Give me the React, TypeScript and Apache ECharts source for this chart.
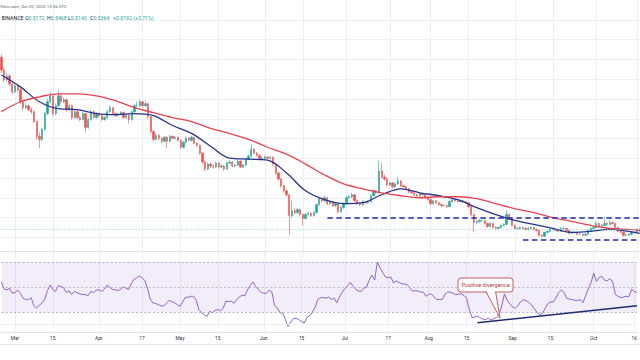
import React, { useEffect, useRef } from "react";
import * as echarts from "echarts";

// ---------- data ----------
const START_DATE = "2023-02-24";
const firstOpen = 1.411;

const closes = [
  1.346, 1.296, 1.316, 1.276, 1.236, 1.266, 1.246, 1.186, 1.156, 1.166,
  1.146, 1.136, 1.086, 1.011, 0.996, 1.046, 1.126, 1.186, 1.216, 1.126,
  1.166, 1.216, 1.186, 1.196, 1.146, 1.166, 1.106, 1.136, 1.106, 1.096,
  1.126, 1.056, 1.096, 1.136, 1.106, 1.126, 1.116, 1.096, 1.106, 1.136,
  1.156, 1.126, 1.116, 1.121, 1.131, 1.106, 1.116, 1.096, 1.136, 1.166,
  1.166, 1.186, 1.166, 1.176, 1.111, 1.036, 0.996, 1.016, 1.001, 0.986,
  1.006, 0.986, 1.011, 1.001, 1.006, 0.991, 0.956, 0.981, 1.001, 0.991,
  1.006, 0.976, 0.966, 0.926, 0.881, 0.846, 0.871, 0.861, 0.856, 0.876,
  0.856, 0.861, 0.846, 0.876, 0.881, 0.861, 0.866, 0.886, 0.856, 0.866,
  0.896, 0.911, 0.946, 0.926, 0.916, 0.896, 0.901, 0.906, 0.901, 0.906,
  0.871, 0.826, 0.796, 0.761, 0.736, 0.716, 0.611, 0.636, 0.626, 0.641,
  0.616, 0.596, 0.616, 0.621, 0.611, 0.626, 0.666, 0.696, 0.686, 0.701,
  0.671, 0.681, 0.661, 0.671, 0.631, 0.651, 0.671, 0.701, 0.706, 0.716,
  0.686, 0.671, 0.666, 0.681, 0.676, 0.681, 0.711, 0.736, 0.726, 0.836,
  0.806, 0.796, 0.766, 0.776, 0.756, 0.771, 0.786, 0.761, 0.756, 0.746,
  0.731, 0.726, 0.716, 0.711, 0.721, 0.716, 0.701, 0.691, 0.671, 0.686,
  0.676, 0.666, 0.661, 0.661, 0.656, 0.681, 0.691, 0.686, 0.681, 0.686,
  0.681, 0.676, 0.656, 0.616, 0.576, 0.581, 0.586, 0.586, 0.571, 0.556,
  0.571, 0.551, 0.546, 0.551, 0.561, 0.566, 0.616, 0.591, 0.561, 0.546,
  0.546, 0.551, 0.546, 0.541, 0.546, 0.551, 0.541, 0.536, 0.511, 0.506,
  0.526, 0.531, 0.541, 0.541, 0.536, 0.531, 0.546, 0.546, 0.536, 0.521,
  0.526, 0.526, 0.516, 0.516, 0.511, 0.516, 0.536, 0.546, 0.551, 0.571,
  0.556, 0.561, 0.571, 0.566, 0.576, 0.571, 0.551, 0.531, 0.526, 0.511,
  0.511, 0.516, 0.526, 0.526, 0.541, 0.531,
];

const highs = [
  1.425, 1.358, 1.330, 1.325, 1.285, 1.280, 1.275, 1.255, 1.195, 1.178,
  1.172, 1.158, 1.142, 1.092, 1.030, 1.055, 1.135, 1.200, 1.236, 1.222,
  1.178, 1.246, 1.228, 1.210, 1.202, 1.176, 1.172, 1.146, 1.142, 1.114,
  1.134, 1.130, 1.104, 1.146, 1.142, 1.134, 1.132, 1.120, 1.114, 1.146,
  1.168, 1.160, 1.132, 1.128, 1.138, 1.136, 1.122, 1.120, 1.142, 1.176,
  1.186, 1.196, 1.190, 1.191, 1.180, 1.116, 1.042, 1.026, 1.022, 1.006,
  1.014, 1.012, 1.018, 1.016, 1.012, 1.010, 0.996, 0.988, 1.010, 1.008,
  1.014, 1.010, 0.982, 0.970, 0.932, 0.888, 0.880, 0.878, 0.868, 0.884,
  0.880, 0.870, 0.866, 0.884, 0.890, 0.886, 0.872, 0.894, 0.890, 0.872,
  0.902, 0.920, 0.971, 0.952, 0.932, 0.920, 0.910, 0.914, 0.912, 0.912,
  0.910, 0.876, 0.832, 0.800, 0.768, 0.742, 0.720, 0.686, 0.648, 0.650,
  0.646, 0.622, 0.624, 0.630, 0.628, 0.632, 0.672, 0.706, 0.704, 0.712,
  0.706, 0.688, 0.686, 0.678, 0.676, 0.658, 0.678, 0.710, 0.716, 0.726,
  0.720, 0.692, 0.678, 0.688, 0.686, 0.688, 0.718, 0.744, 0.742, 0.891,
  0.876, 0.818, 0.802, 0.784, 0.780, 0.778, 0.806, 0.790, 0.768, 0.762,
  0.750, 0.736, 0.730, 0.722, 0.728, 0.726, 0.720, 0.706, 0.696, 0.692,
  0.690, 0.680, 0.672, 0.668, 0.666, 0.688, 0.698, 0.696, 0.692, 0.692,
  0.690, 0.686, 0.680, 0.660, 0.620, 0.590, 0.594, 0.592, 0.590, 0.576,
  0.578, 0.574, 0.556, 0.556, 0.566, 0.572, 0.636, 0.622, 0.596, 0.566,
  0.552, 0.556, 0.554, 0.550, 0.552, 0.556, 0.554, 0.546, 0.540, 0.516,
  0.530, 0.536, 0.546, 0.548, 0.546, 0.540, 0.552, 0.554, 0.550, 0.540,
  0.530, 0.532, 0.530, 0.522, 0.520, 0.522, 0.540, 0.552, 0.558, 0.584,
  0.576, 0.568, 0.606, 0.580, 0.590, 0.582, 0.574, 0.554, 0.536, 0.530,
  0.518, 0.522, 0.530, 0.532, 0.546, 0.546,
];

const lows = [
  1.330, 1.285, 1.288, 1.265, 1.225, 1.228, 1.238, 1.175, 1.140, 1.150,
  1.138, 1.125, 1.078, 0.995, 0.951, 0.985, 1.040, 1.118, 1.178, 1.115,
  1.118, 1.160, 1.175, 1.178, 1.135, 1.138, 1.096, 1.100, 1.098, 1.088,
  1.090, 1.030, 1.050, 1.090, 1.100, 1.100, 1.108, 1.088, 1.090, 1.100,
  1.130, 1.118, 1.110, 1.110, 1.116, 1.100, 1.100, 1.076, 1.090, 1.130,
  1.155, 1.160, 1.158, 1.160, 1.100, 1.025, 0.985, 0.990, 0.992, 0.975,
  0.980, 0.951, 0.980, 0.995, 0.996, 0.985, 0.948, 0.950, 0.975, 0.985,
  0.985, 0.970, 0.958, 0.918, 0.872, 0.836, 0.840, 0.852, 0.848, 0.850,
  0.848, 0.850, 0.838, 0.842, 0.870, 0.855, 0.856, 0.860, 0.850, 0.850,
  0.860, 0.890, 0.905, 0.920, 0.908, 0.888, 0.890, 0.894, 0.896, 0.896,
  0.862, 0.818, 0.788, 0.752, 0.726, 0.706, 0.511, 0.600, 0.616, 0.618,
  0.606, 0.561, 0.590, 0.608, 0.604, 0.606, 0.620, 0.660, 0.678, 0.680,
  0.664, 0.664, 0.654, 0.654, 0.622, 0.626, 0.646, 0.666, 0.694, 0.700,
  0.680, 0.664, 0.658, 0.660, 0.670, 0.670, 0.676, 0.706, 0.718, 0.720,
  0.796, 0.786, 0.758, 0.760, 0.748, 0.750, 0.766, 0.754, 0.750, 0.740,
  0.724, 0.720, 0.710, 0.704, 0.706, 0.710, 0.696, 0.686, 0.664, 0.666,
  0.670, 0.660, 0.656, 0.655, 0.650, 0.652, 0.676, 0.680, 0.676, 0.676,
  0.676, 0.670, 0.650, 0.608, 0.526, 0.566, 0.574, 0.578, 0.566, 0.550,
  0.552, 0.546, 0.540, 0.542, 0.548, 0.556, 0.562, 0.586, 0.556, 0.540,
  0.540, 0.542, 0.540, 0.536, 0.536, 0.542, 0.536, 0.530, 0.504, 0.500,
  0.502, 0.520, 0.526, 0.536, 0.530, 0.526, 0.528, 0.540, 0.532, 0.516,
  0.516, 0.520, 0.512, 0.510, 0.506, 0.506, 0.512, 0.530, 0.540, 0.546,
  0.550, 0.550, 0.556, 0.560, 0.560, 0.566, 0.546, 0.526, 0.520, 0.504,
  0.506, 0.508, 0.512, 0.520, 0.522, 0.526,
];

const rsi14 = [
  54, 48.5, 47.6, 49, 45, 45.5, 47.5, 45, 41, 40,
  39.8, 41.5, 35, 33, 35.5, 37, 40, 47, 51.6, 48,
  46.5, 51, 50.5, 49.5, 45.5, 47, 44, 46.5, 45.3, 44.5,
  44, 44, 43, 46.5, 45.5, 47.5, 47.7, 46.6, 48, 51.4,
  50, 48.2, 47.7, 47.3, 48, 50, 49.2, 48, 52.6, 56,
  57.2, 58.8, 57.5, 55.2, 49, 40.5, 37.3, 36.8, 36, 34.8,
  35, 36.8, 39.4, 38.2, 37.4, 36, 34.5, 38, 41.8, 41.8,
  42.6, 42.6, 39.6, 32, 29.5, 27.8, 26.5, 30.5, 29.5, 31.2,
  32, 31, 33, 38.8, 38.3, 38.7, 37, 39.8, 42.2, 43.3,
  43, 47.8, 51.2, 54, 50.5, 48, 45.7, 45, 45, 47.5,
  46, 35, 33.3, 29.5, 29, 24, 18.5, 22, 24.7, 25,
  23.8, 22.3, 21.3, 25.7, 27, 30, 33.8, 40, 41.4, 41.6,
  41, 42, 40.2, 41, 37.5, 42, 46, 48.8, 51, 53.8,
  50.5, 48.2, 46.8, 46.5, 49, 50, 55.5, 59.5, 55.6, 70,
  65.5, 61.5, 58, 57.5, 58, 53.2, 55, 53.6, 52.8, 52.3,
  52, 49.3, 46.6, 47.2, 46.8, 46, 46, 42.5, 44.2, 44.4,
  42, 40, 40, 40, 44.3, 46, 45.8, 45, 43.8, 44.4,
  44.5, 43.3, 41, 32, 25.5, 26, 26.7, 25.5, 24.3, 24,
  25, 23.6, 24.5, 25.5, 28, 35, 44.5, 39.4, 36.5, 34,
  33, 35, 38.3, 39.8, 39, 37.6, 35.8, 32.6, 29.8, 28,
  28.5, 32.8, 36.6, 38, 38, 41, 45.5, 47.5, 45.8, 41,
  40.3, 40, 39.4, 39.2, 40, 37.5, 43, 48.6, 53.5, 61,
  54.5, 57.5, 58.5, 55.5, 55, 56.8, 54, 44, 42.5, 41.5,
  42, 42.6, 42.2, 48, 46.5, 45.5,
];

// moving averages at weekly sample points
const maSampleIdx = [
  0, 7, 14, 21, 28, 35, 42, 49, 56, 63, 70, 77, 84, 91, 98, 105, 112, 119,
  126, 133, 140, 147, 154, 161, 168, 175, 182, 189, 196, 203, 210, 217, 224,
  231, 235,
];
const ema20Samples = [
  1.321, 1.261, 1.186, 1.151, 1.146, 1.126, 1.121, 1.126, 1.116, 1.066,
  1.026, 0.961, 0.901, 0.896, 0.891, 0.826, 0.736, 0.691, 0.671, 0.676,
  0.716, 0.746, 0.726, 0.711, 0.691, 0.651, 0.616, 0.586, 0.566, 0.546,
  0.526, 0.531, 0.541, 0.531, 0.521,
];
const sma50Samples = [
  1.136, 1.186, 1.211, 1.226, 1.226, 1.216, 1.191, 1.156, 1.131, 1.106,
  1.086, 1.051, 1.026, 0.996, 0.956, 0.921, 0.871, 0.816, 0.771, 0.746,
  0.726, 0.711, 0.701, 0.706, 0.706, 0.696, 0.671, 0.646, 0.626, 0.601,
  0.581, 0.561, 0.546, 0.541, 0.536,
];

const xTickDates = [
  "2023-03-01", "2023-03-15", "2023-04-01", "2023-04-17", "2023-05-01",
  "2023-05-15", "2023-06-01", "2023-06-15", "2023-07-01", "2023-07-17",
  "2023-08-01", "2023-08-15", "2023-09-01", "2023-09-15", "2023-10-01",
  "2023-10-16",
];
const xTickLabels = [
  "Mar", "15", "Apr", "17", "May", "15", "Jun", "15", "Jul", "17", "Aug",
  "15", "Sep", "15", "Oct", "16",
];

const lastPrice = 0.5364;
const resistanceLevel = 0.601;
const supportLevel = 0.491;
const resistanceStartIdx = 120;
const supportStartIdx = 192;
const rsiTrendStart: [number, number] = [176, 21.4];
const rsiTrendEnd: [number, number] = [235, 35];

const headerLine1 = "View.com, Oct 20, 2023 13:36 UTC";
const headerItems = [
  { label: "BINANCE", value: "" },
  { label: "O", value: "0.5172" },
  { label: "H", value: "0.5468" },
  { label: "L", value: "0.5143" },
  { label: "C", value: "0.5364" },
  { label: "", value: "+0.0192 (+3.71%)" },
];
const calloutText = "Positive divergence";

// ---------- helpers ----------
const DAY_MS = 86400000;
const startMs = Date.parse(START_DATE + "T00:00:00Z");
const dates = closes.map((_, i) =>
  new Date(startMs + i * DAY_MS).toISOString().slice(0, 10)
);
const tickSet = new Set(xTickDates);
const tickLabelMap: Record<string, string> = {};
xTickDates.forEach((d, i) => (tickLabelMap[d] = xTickLabels[i]));

const FONT = "Roboto, 'Liberation Sans', sans-serif";

export default function App() {
  const ref = useRef<HTMLDivElement>(null);

  useEffect(() => {
    if (!ref.current) return;
    const chart = echarts.init(ref.current, undefined, { renderer: "svg" });

    const candleData = closes.map((c, i) => [
      i === 0 ? firstOpen : closes[i - 1],
      c,
      lows[i],
      highs[i],
    ]);
    const emaData: (number | null)[] = dates.map(() => null);
    const smaData: (number | null)[] = dates.map(() => null);
    maSampleIdx.forEach((k, j) => {
      emaData[k] = ema20Samples[j];
      smaData[k] = sma50Samples[j];
    });

    const splitInterval = (_i: number, v: string) => tickSet.has(v);
    const gridLine = { color: "#eef0f5", width: 1 };

    const headerGraphics: any[] = [];
    const headerX = [1.7, 25, 47, 68, 90, 113];
    headerItems.forEach((it, k) => {
      headerGraphics.push({
        type: "text",
        x: headerX[k],
        y: 17.7,
        z: 100,
        style: {
          text:
            (it.label ? "{l|" + it.label + "}" : "") +
            (it.value ? "{v|" + it.value + "}" : ""),
          verticalAlign: "middle",
          textVerticalAlign: "middle",
          rich: {
            l: { fill: "#131722", fontSize: 5.2, fontFamily: FONT },
            v: { fill: "#26a69a", fontSize: 5.2, fontFamily: FONT },
          },
        },
      });
    });

    const calloutColor = "#b3383d";

    const option: any = {
      animation: false,
      backgroundColor: "#ffffff",
      grid: [
        { left: 1.4, width: 638.3, top: -2.7, height: 260 },
        { left: 1.4, width: 638.3, top: 252, height: 80 },
      ],
      xAxis: [
        {
          type: "category",
          gridIndex: 0,
          data: dates,
          boundaryGap: false,
          axisLine: { show: false },
          axisTick: { show: false },
          axisLabel: { show: false },
          splitLine: { show: true, interval: splitInterval, lineStyle: gridLine },
        },
        {
          type: "category",
          gridIndex: 1,
          data: dates,
          boundaryGap: false,
          axisLine: { show: true, lineStyle: { color: "#dfe2ea", width: 1 } },
          axisTick: { show: false },
          axisLabel: {
            show: true,
            interval: splitInterval,
            formatter: (v: string) => tickLabelMap[v] || "",
            fontSize: 4.8,
            color: "#2a2e39",
            fontFamily: FONT,
            margin: 3.6,
          },
          splitLine: { show: true, interval: splitInterval, lineStyle: gridLine },
        },
      ],
      yAxis: [
        {
          type: "value",
          gridIndex: 0,
          min: 0.4,
          max: 1.7,
          interval: 0.1,
          axisLine: { show: false },
          axisTick: { show: false },
          axisLabel: { show: false },
          splitLine: {
            show: true,
            showMinLine: false,
            showMaxLine: false,
            lineStyle: gridLine,
          },
        },
        {
          type: "value",
          gridIndex: 1,
          min: 14,
          max: 78,
          axisLine: { show: false },
          axisTick: { show: false },
          axisLabel: { show: false },
          splitLine: { show: false },
        },
      ],
      series: [
        {
          type: "candlestick",
          xAxisIndex: 0,
          yAxisIndex: 0,
          data: candleData,
          barWidth: 1.8,
          clip: false,
          itemStyle: {
            color: "#26a69a",
            color0: "#ef5350",
            borderColor: "#26a69a",
            borderColor0: "#ef5350",
            borderWidth: 0.6,
          },
          markLine: {
            silent: true,
            symbol: ["none", "none"],
            label: { show: false },
            data: [
              {
                yAxis: lastPrice,
                lineStyle: { type: [1, 1.6], color: "#7fcfc6", width: 0.8 },
              },
              [
                {
                  coord: [dates[resistanceStartIdx], resistanceLevel],
                  lineStyle: { type: [5.5, 3.5], color: "#1f2aa8", width: 1.7 },
                },
                { coord: [dates[dates.length - 1], resistanceLevel] },
              ],
              [
                {
                  coord: [dates[supportStartIdx], supportLevel],
                  lineStyle: { type: [5.5, 3.5], color: "#1f2aa8", width: 1.7 },
                },
                { coord: [dates[dates.length - 1], supportLevel] },
              ],
            ],
          },
          z: 3,
        },
        {
          type: "line",
          name: "EMA20",
          xAxisIndex: 0,
          yAxisIndex: 0,
          data: emaData,
          connectNulls: true,
          smooth: 0.35,
          showSymbol: false,
          symbol: "none",
          lineStyle: { color: "#24338f", width: 1.3 },
          z: 4,
        },
        {
          type: "line",
          name: "SMA50",
          xAxisIndex: 0,
          yAxisIndex: 0,
          data: smaData,
          connectNulls: true,
          smooth: 0.35,
          showSymbol: false,
          symbol: "none",
          lineStyle: { color: "#e5434f", width: 1.3 },
          z: 4,
        },
        {
          type: "line",
          name: "RSI",
          xAxisIndex: 1,
          yAxisIndex: 1,
          data: rsi14,
          showSymbol: false,
          symbol: "none",
          lineStyle: { color: "#7e57c2", width: 0.9 },
          markArea: {
            silent: true,
            itemStyle: { color: "rgba(126,87,194,0.1)" },
            data: [[{ yAxis: 30 }, { yAxis: 70 }]],
          },
          markLine: {
            silent: true,
            symbol: ["none", "none"],
            label: { show: false },
            data: [
              { yAxis: 70, lineStyle: { type: [2.2, 2], color: "#a9a4b8", width: 0.8 } },
              { yAxis: 50, lineStyle: { type: [2.2, 2], color: "#b2aec0", width: 0.8 } },
              { yAxis: 30, lineStyle: { type: [2.2, 2], color: "#a9a4b8", width: 0.8 } },
              { yAxis: 20, lineStyle: { type: "solid", color: "#eef0f5", width: 1 } },
              [
                {
                  coord: [dates[rsiTrendStart[0]], rsiTrendStart[1]],
                  lineStyle: { type: "solid", color: "#1d2b70", width: 1.4 },
                },
                { coord: [dates[rsiTrendEnd[0]], rsiTrendEnd[1]] },
              ],
            ],
          },
          z: 3,
        },
      ],
      graphic: [
        {
          type: "line",
          z: 50,
          shape: { x1: 0, y1: 251.5, x2: 640, y2: 251.5 },
          style: { stroke: "#e0e3eb", lineWidth: 1 },
        },
        {
          type: "line",
          z: 50,
          shape: { x1: 0, y1: 344.5, x2: 640, y2: 344.5 },
          style: { stroke: "#e6e8ee", lineWidth: 1 },
        },
        {
          type: "text",
          x: 0,
          y: 6,
          z: 100,
          style: {
            text: headerLine1,
            fill: "#5d606b",
            fontSize: 4.4,
            fontFamily: FONT,
            verticalAlign: "middle",
            textVerticalAlign: "middle",
          },
        },
        ...headerGraphics,
        {
          type: "rect",
          z: 100,
          shape: { x: 458, y: 278, width: 55, height: 14, r: 3 },
          style: { fill: "#ffffff", stroke: calloutColor, lineWidth: 0.8 },
        },
        {
          type: "polygon",
          z: 101,
          shape: { points: [[486.3, 291.0], [495.3, 291.0], [500, 318]] },
          style: { fill: "#ffffff", stroke: "none" },
        },
        {
          type: "polyline",
          z: 102,
          shape: { points: [[486, 291.7], [500, 318], [495.6, 291.7]] },
          style: { fill: "none", stroke: calloutColor, lineWidth: 0.8 },
        },
        {
          type: "text",
          z: 103,
          x: 485.5,
          y: 285,
          style: {
            text: calloutText,
            fill: calloutColor,
            fontSize: 5.6,
            fontFamily: FONT,
            align: "center",
            textAlign: "center",
            verticalAlign: "middle",
            textVerticalAlign: "middle",
          },
        },
      ],
    };

    chart.setOption(option);
    return () => chart.dispose();
  }, []);

  return (
    <div
      ref={ref}
      style={{
        position: "absolute",
        left: 0,
        top: 0,
        width: 640,
        height: 360,
        background: "#ffffff",
      }}
    />
  );
}
